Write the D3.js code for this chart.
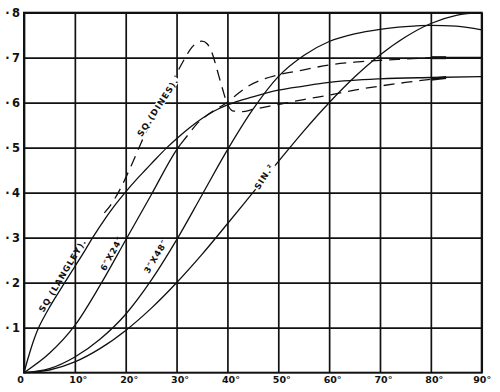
<!DOCTYPE html>
<html>
<head>
<meta charset="utf-8">
<script src="https://cdn.jsdelivr.net/npm/d3@7"></script>
<style>
  html, body { margin: 0; padding: 0; background: #fff; }
  svg { display: block; }
</style>
</head>
<body>
<svg id="chart" width="500" height="392"></svg>
<script>
// ---- tick labels ----
const xTicks = [0, 10, 20, 30, 40, 50, 60, 70, 80, 90];
const yTicks = [0.1, 0.2, 0.3, 0.4, 0.5, 0.6, 0.7, 0.8];

// ---- series (angle in degrees, value) ----
const langleyDeg = [0, 1, 2, 3, 4, 5, 6, 8, 10, 12, 13.5, 16, 18, 20, 22, 24, 26, 28, 30, 32.5, 35, 37.5, 40, 45, 50, 55, 60, 70, 80, 90];
const langleyVal = [0, 0.04, 0.075, 0.103, 0.125, 0.145, 0.164, 0.2, 0.236, 0.272, 0.3, 0.343, 0.374, 0.402, 0.428, 0.452, 0.476, 0.499, 0.52, 0.544, 0.565, 0.582, 0.595, 0.613, 0.628, 0.637, 0.645, 0.653, 0.656, 0.658];

const sixDeg = [0, 5, 10, 15, 20, 25, 30, 30.8];
const sixVal = [0, 0.043, 0.105, 0.195, 0.295, 0.395, 0.495, 0.508];
const sixDashDeg = [30.8, 32.5, 34, 36, 38, 40, 41.5, 44, 47, 50, 55, 60, 65, 70, 75, 80];
const sixDashVal = [0.508, 0.532, 0.553, 0.572, 0.587, 0.601, 0.615, 0.636, 0.652, 0.662, 0.673, 0.684, 0.69, 0.694, 0.697, 0.7];
const sixTailDeg = [80, 90];
const sixTailVal = [0.7, 0.7];

const threeDeg = [0, 5, 10, 15, 20, 25, 30, 35, 40, 45, 50, 55, 60, 65, 70, 75, 80, 85, 90];
const threeVal = [0, 0.009, 0.035, 0.075, 0.13, 0.205, 0.295, 0.395, 0.495, 0.585, 0.658, 0.705, 0.736, 0.753, 0.763, 0.769, 0.772, 0.77, 0.762];

const sinDeg = [0, 5, 10, 15, 20, 25, 30, 35, 40, 45, 50, 55, 60, 65, 70, 75, 80, 85, 90];
const sinVal = [0, 0.006, 0.024, 0.054, 0.094, 0.143, 0.2, 0.263, 0.331, 0.4, 0.469, 0.537, 0.6, 0.657, 0.706, 0.746, 0.776, 0.794, 0.8];

const dinesDeg = [15.8, 17, 19, 21, 23, 25, 27, 29, 30, 31, 32, 33, 34, 35, 36, 37, 38, 39, 40, 41, 43, 45, 50, 55, 60, 65, 70, 75, 80];
const dinesVal = [0.355, 0.372, 0.41, 0.458, 0.51, 0.56, 0.605, 0.645, 0.665, 0.686, 0.706, 0.723, 0.733, 0.737, 0.731, 0.71, 0.672, 0.632, 0.597, 0.582, 0.58, 0.585, 0.596, 0.607, 0.617, 0.628, 0.637, 0.645, 0.652];
const dinesTailDeg = [80, 83];
const dinesTailVal = [0.652, 0.656];

// ---- curve labels (point on curve, angle, offset to the upper-left) ----
const labelText = ["SQ (LANGLEY).", "6\u2033X24\u2033", "3\u2033X48\u2033", "SQ.(DINES).", "SIN.\u00B2"];
const labelDeg = [8.5, 18.2, 27.2, 26.3, 47.3];
const labelVal = [0.21, 0.259, 0.25, 0.59, 0.435];
const labelAngle = [-59, -61, -59, -57, -57];
const labelOffset = [5.5, 5.5, 7.5, 0, 0.5];
const labelMask = [false, false, false, true, true];

// ---- drawing ----
const svg = d3.select("#chart");
const pLeft = 24, pRight = 481.7, pTop = 12.7, pBottom = 372.7;
const x = d3.scaleLinear().domain([0, 90]).range([pLeft, pRight]);
const y = d3.scaleLinear().domain([0, 0.8]).range([pBottom, pTop]);
const ink = "#111";
const font = "'DejaVu Sans', sans-serif";

// grid via axes
const gx = svg.append("g").attr("transform", `translate(0,${pBottom})`)
  .call(d3.axisBottom(x).tickValues(xTicks).tickSize(-(pBottom - pTop)).tickPadding(4)
    .tickFormat(d => d === 0 ? "0" : d + "\u00B0"));
gx.select(".domain").remove();
gx.selectAll(".tick line").attr("stroke", ink).attr("stroke-width", 1.7);
gx.selectAll(".tick text")
  .attr("fill", ink).attr("font-family", font).attr("font-weight", "bold").attr("font-size", 9.5)
  .attr("dx", d => d === 0 ? -4 : (d === 90 ? 0 : 3));

const gy = svg.append("g").attr("transform", `translate(${pLeft},0)`)
  .call(d3.axisLeft(y).tickValues(yTicks).tickSize(-(pRight - pLeft)).tickPadding(4)
    .tickFormat(d => "\u00B7\u2009" + Math.round(d * 10)));
gy.select(".domain").remove();
gy.selectAll(".tick line").attr("stroke", ink).attr("stroke-width", 1.7);
gy.selectAll(".tick text")
  .attr("fill", ink).attr("font-family", font).attr("font-weight", "bold").attr("font-size", 11.5);

// frame
svg.append("rect").attr("x", pLeft).attr("y", pTop).attr("width", pRight - pLeft).attr("height", pBottom - pTop)
  .attr("fill", "none").attr("stroke", ink).attr("stroke-width", 2);

const line = d3.line().x(d => x(d[0])).y(d => y(d[1])).curve(d3.curveMonotoneX);
const zip = (a, b) => a.map((v, i) => [v, b[i]]);

function draw(deg, val, opts) {
  svg.append("path").datum(zip(deg, val))
    .attr("d", line).attr("fill", "none").attr("stroke", ink)
    .attr("stroke-width", opts.w || 1.3)
    .attr("stroke-dasharray", opts.dash || null)
    .attr("stroke-linecap", "butt");
}

draw(sinDeg, sinVal, {});
draw(threeDeg, threeVal, {});
draw(langleyDeg, langleyVal, {});
draw(sixDeg, sixVal, {});
draw(sixDashDeg, sixDashVal, { dash: "11,7" });
draw(sixTailDeg, sixTailVal, { w: 1.8 });
draw([80, 83], [0.7, 0.7], { w: 3 });
draw(dinesDeg, dinesVal, { dash: "11,7" });
draw(dinesTailDeg, dinesTailVal, { w: 3 });

// curve labels
labelText.forEach((t, i) => {
  const g = svg.append("g")
    .attr("transform", `translate(${x(labelDeg[i])},${y(labelVal[i])}) rotate(${labelAngle[i]}) translate(0,${-labelOffset[i]})`);
  const txt = g.append("text").text(t)
    .attr("text-anchor", "middle").attr("dy", "0.35em")
    .attr("font-family", font).attr("font-weight", "bold").attr("font-size", 8.5).attr("letter-spacing", 1)
    .attr("fill", ink);
  if (labelMask[i]) {
    const b = txt.node().getBBox();
    g.insert("rect", "text").attr("x", b.x - 1).attr("y", b.y + 1).attr("width", b.width + 2).attr("height", b.height - 2)
      .attr("fill", "#fff");
  }
});
</script>
</body>
</html>
